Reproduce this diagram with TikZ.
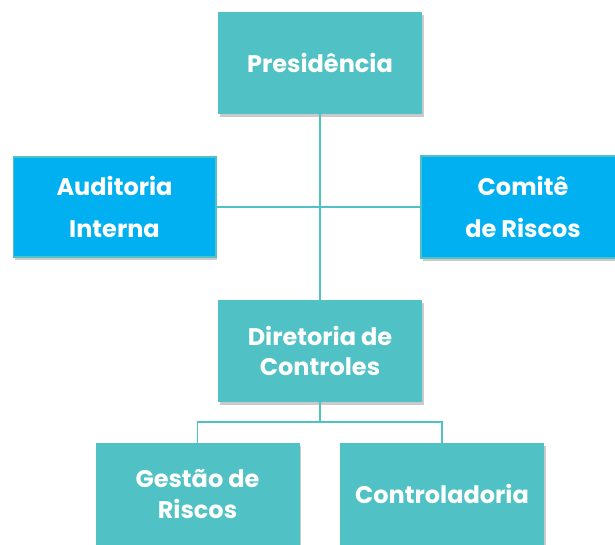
\documentclass[tikz,border=0pt]{standalone}
\usepackage{fontspec}
\setmainfont{Poppins}
\usetikzlibrary{shadows}
\definecolor{teal1}{HTML}{50C2C5}
\definecolor{blue1}{HTML}{00B0F0}
\tikzset{
  box/.style={rectangle, inner sep=0pt, minimum width=153pt, minimum height=76.5pt,
    text=white, font=\fontsize{18}{23}\selectfont\bfseries, align=center,
    drop shadow={shadow xshift=1.2pt, shadow yshift=-2pt, opacity=0.35, fill=black!60}},
  tealbox/.style={box, fill=teal1},
  bluebox/.style={box, fill=blue1, draw=teal1, line width=1pt, font=\fontsize{18}{31}\selectfont\bfseries},
  conn/.style={draw=teal1, line width=1.1pt}
}
\begin{document}
\begin{tikzpicture}[x=0.75pt,y=-0.75pt]
\useasboundingbox (0,0) rectangle (615,544);
\node[tealbox] (pres) at (320,63) {Presidência};
\node[bluebox, minimum width=152pt, minimum height=75pt] (aud) at (114.5,207) {Auditoria\\Interna};
\node[bluebox] (com) at (523,207) {Comitê\\de Riscos};
\node[tealbox] (dir) at (320,351) {Diretoria de\\Controles};
\node[tealbox] (ges) at (197.5,494) {Gestão de\\Riscos};
\node[tealbox] (con) at (442,494) {Controladoria};
\coordinate (junc) at (320,422);
\path[conn] (pres.south) -- (dir.north);
\path[conn] (aud.east) -- (com.west);
\path[conn] (dir.south) -- (junc);
\path[conn] (junc) -| (ges.north);
\path[conn] (junc) -| (con.north);
\end{tikzpicture}
\end{document}
